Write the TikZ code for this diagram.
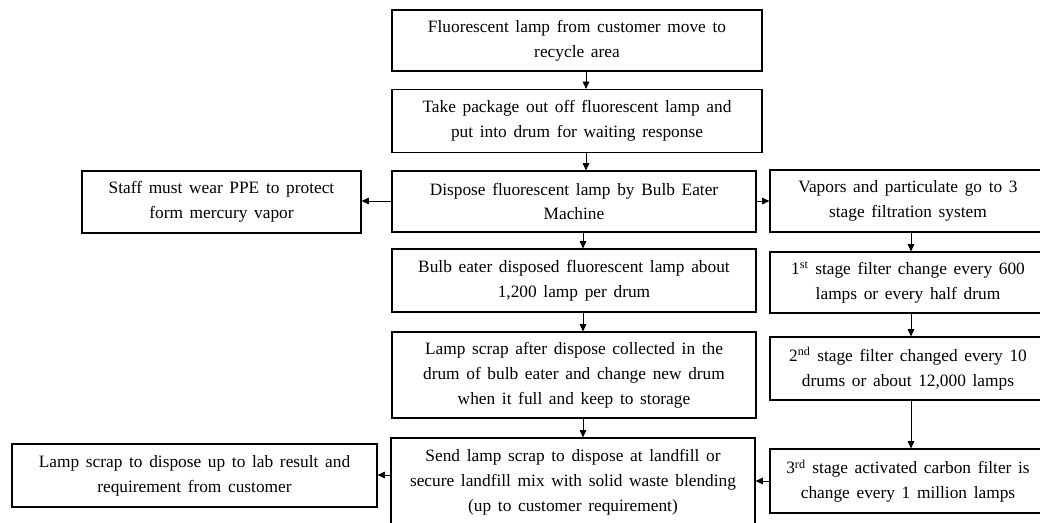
\documentclass[tikz,border=0pt]{standalone}
\usepackage{fontspec}
\setmainfont{Liberation Serif}
\usetikzlibrary{arrows.meta}
\newcommand\flowfont{\fontsize{13pt}{18.6pt}\selectfont\spaceskip 5pt plus 1pt minus 1pt\relax}
\begin{document}
\begin{tikzpicture}[x=0.75pt,y=-0.75pt,
  box/.style={draw=black, line width=0.9pt, inner sep=0pt, align=center, font=\flowfont},
  link/.style={draw=black, line width=0.6pt, -{Triangle[length=5.5pt,width=5pt]}}]
\fill[white] (0,0) rectangle (1040,522);
\useasboundingbox (0,0) rectangle (1040,522);
\clip (0,0) rectangle (1040,522);

% main column
\node[box, minimum width=277.5pt, minimum height=45.75pt] (b1) at (577,40.5)
  {Fluorescent lamp from customer move to\\recycle area};
\node[box, minimum width=277.5pt, minimum height=47.25pt] (b2) at (577,121)
  {Take package out off fluorescent lamp and\\put into drum for waiting response};
\node[box, minimum width=273pt, minimum height=45.75pt] (b3) at (574,201.5)
  {Dispose fluorescent lamp by Bulb Eater\\Machine};
\node[box, minimum width=273pt, minimum height=47.25pt] (b4) at (574,280.5)
  {Bulb eater disposed fluorescent lamp about\\1,200 lamp per drum};
\node[box, minimum width=273pt, minimum height=64.5pt] (b5) at (574,375)
  {Lamp scrap after dispose collected in the\\drum of bulb eater and change new drum\\when it full and keep to storage};
\node[box, minimum width=273pt, minimum height=66pt] (b6) at (573,482)
  {Send lamp scrap to dispose at landfill or\\secure landfill mix with solid waste blending\\(up to customer requirement)};

% side boxes
\node[box, minimum width=209.25pt, minimum height=46.5pt] (staff) at (221.5,202)
  {Staff must wear PPE to protect\\form mercury vapor};
\node[box, minimum width=273.75pt, minimum height=47.25pt] (lab) at (194.5,475.5)
  {Lamp scrap to dispose up to lab result and\\requirement from customer};

% filtration column
\node[box, minimum width=207pt, minimum height=46.5pt] (vap) at (908,201)
  {Vapors and particulate go to 3\\stage filtration system};
\node[box, minimum width=207pt, minimum height=45.75pt] (s1) at (908,282.5)
  {1\textsuperscript{st} stage filter change every 600\\lamps or every half drum};
\node[box, minimum width=207pt, minimum height=47.25pt] (s2) at (908,368.5)
  {2\textsuperscript{nd} stage filter changed every 10\\drums or about 12,000 lamps};
\node[box, minimum width=207pt, minimum height=48pt] (s3) at (908,481)
  {3\textsuperscript{rd} stage activated carbon filter is\\change every 1 million lamps};

% arrow positions
\coordinate (xa) at (586,0);
\coordinate (xb) at (583,0);
\coordinate (xf) at (911,0);
\coordinate (ya) at (0,201);
\coordinate (yb) at (0,481);
\coordinate (yc) at (0,475);

\draw[link] (b1.south -| xa) -- (b2.north -| xa);
\draw[link] (b2.south -| xa) -- (b3.north -| xa);
\draw[link] (b3.south -| xb) -- (b4.north -| xb);
\draw[link] (b4.south -| xb) -- (b5.north -| xb);
\draw[link] (b5.south -| xb) -- (b6.north -| xb);
\draw[link] (b3.west |- ya) -- (staff.east |- ya);
\draw[link] (b3.east |- ya) -- (vap.west |- ya);
\draw[link] (vap.south -| xf) -- (s1.north -| xf);
\draw[link] (s1.south -| xf) -- (s2.north -| xf);
\draw[link] (s2.south -| xf) -- (s3.north -| xf);
\draw[link] (s3.west |- yb) -- (b6.east |- yb);
\draw[link] (b6.west |- yc) -- (lab.east |- yc);
\end{tikzpicture}
\end{document}
